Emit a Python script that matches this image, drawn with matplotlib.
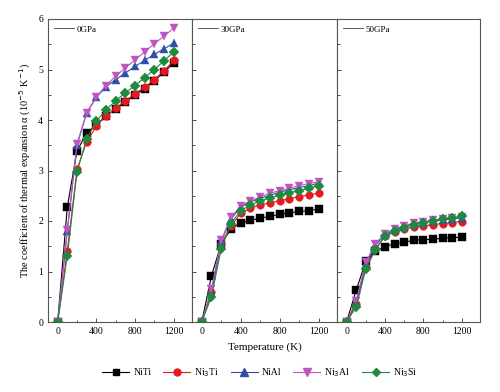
import matplotlib
matplotlib.use("Agg")
import matplotlib.pyplot as plt
from matplotlib.lines import Line2D
from matplotlib.ticker import MultipleLocator

plt.rcParams['font.family'] = ['Liberation Serif', 'DejaVu Serif']

# temperature points (K)
temps = [0, 100, 200, 300, 400, 500, 600, 700, 800, 900, 1000, 1100, 1200]

pressures = ['0GPa', '30GPa', '50GPa']
names = ['NiTi', 'Ni$_3$Ti', 'NiAl', 'Ni$_3$Al', 'Ni$_3$Si']

# thermal expansion coefficient (10^-5 K^-1), one list per material per pressure
niti_0 = [0, 2.28, 3.39, 3.74, 3.90, 4.08, 4.22, 4.35, 4.50, 4.62, 4.78, 4.95, 5.13]
ni3ti_0 = [0, 1.41, 3.02, 3.57, 3.88, 4.08, 4.23, 4.38, 4.52, 4.65, 4.80, 4.97, 5.18]
nial_0 = [0, 1.80, 3.50, 4.14, 4.45, 4.66, 4.80, 4.93, 5.06, 5.18, 5.30, 5.41, 5.52]
ni3al_0 = [0, 1.83, 3.53, 4.14, 4.46, 4.68, 4.87, 5.03, 5.19, 5.35, 5.51, 5.66, 5.82]
ni3si_0 = [0, 1.31, 2.97, 3.63, 3.98, 4.20, 4.38, 4.54, 4.68, 4.84, 5.00, 5.17, 5.35]

niti_30 = [0, 0.91, 1.55, 1.84, 1.97, 2.01, 2.06, 2.09, 2.13, 2.16, 2.19, 2.20, 2.24]
ni3ti_30 = [0, 0.60, 1.55, 1.90, 2.15, 2.25, 2.32, 2.36, 2.40, 2.44, 2.48, 2.52, 2.55]
nial_30 = [0, 0.60, 1.60, 2.04, 2.27, 2.38, 2.45, 2.51, 2.57, 2.62, 2.66, 2.70, 2.75]
ni3al_30 = [0, 0.65, 1.62, 2.07, 2.30, 2.40, 2.48, 2.55, 2.60, 2.65, 2.70, 2.74, 2.78]
ni3si_30 = [0, 0.50, 1.45, 1.95, 2.20, 2.32, 2.40, 2.46, 2.51, 2.56, 2.60, 2.65, 2.70]

niti_50 = [0, 0.63, 1.20, 1.40, 1.49, 1.55, 1.58, 1.62, 1.63, 1.64, 1.66, 1.67, 1.68]
ni3ti_50 = [0, 0.35, 1.08, 1.45, 1.70, 1.78, 1.84, 1.88, 1.90, 1.93, 1.95, 1.97, 1.99]
nial_50 = [0, 0.40, 1.15, 1.52, 1.73, 1.82, 1.89, 1.94, 1.97, 2.00, 2.02, 2.04, 2.06]
ni3al_50 = [0, 0.42, 1.18, 1.55, 1.75, 1.84, 1.91, 1.96, 1.99, 2.02, 2.04, 2.06, 2.08]
ni3si_50 = [0, 0.30, 1.05, 1.43, 1.70, 1.80, 1.87, 1.93, 1.97, 2.00, 2.03, 2.06, 2.10]

data = [
    [niti_0, ni3ti_0, nial_0, ni3al_0, ni3si_0],
    [niti_30, ni3ti_30, nial_30, ni3al_30, ni3si_30],
    [niti_50, ni3ti_50, nial_50, ni3al_50, ni3si_50],
]

colors = ['black', '#e8191e', '#2d4fa8', '#c054c0', '#1e8a3e']
markers = ['s', 'o', '^', 'v', 'D']
msizes = [5.5, 5.5, 6, 6, 5]

fig = plt.figure(figsize=(5, 3.92), dpi=100)
lefts = [48, 192, 337]
rights = [192, 337, 480]
axes = []
for i in range(3):
    l = lefts[i] / 500
    w = (rights[i] - lefts[i]) / 500
    ax = fig.add_axes([l, 1 - 322 / 392, w, (322 - 19) / 392])
    axes.append(ax)

for i, ax in enumerate(axes):
    for j in range(5):
        ax.plot(temps, data[i][j], color=colors[j], marker=markers[j],
                markersize=msizes[j], linewidth=0.8, markeredgewidth=0.3,
                markeredgecolor=colors[j])
    ax.set_xlim(-100, 1390)
    ax.set_ylim(0, 6)
    ax.set_xticks([0, 400, 800, 1200])
    ax.xaxis.set_minor_locator(MultipleLocator(200))
    ax.yaxis.set_major_locator(MultipleLocator(1))
    ax.yaxis.set_minor_locator(MultipleLocator(0.5))
    ax.tick_params(which='both', direction='in', labelsize=7, top=False, right=False,
                   color='#333333', width=0.6)
    ax.tick_params(which='major', length=3)
    ax.tick_params(which='minor', length=1.8)
    for sp in ax.spines.values():
        sp.set_color('#555555')
        sp.set_linewidth(0.8)
    if i > 0:
        ax.set_yticklabels([])
    h = Line2D([], [], color='#444444', linewidth=0.6)
    ax.legend([h], [pressures[i]], loc='upper left', frameon=False, fontsize=6.5,
              handlelength=2.2, handletextpad=0.3, borderaxespad=0.3)

axes[0].set_ylabel('The coefficient of thermal expansion \u03b1 (10$^{-5}$ K$^{-1}$)',
                   fontsize=7.5, labelpad=4)
fig.text(0.53, 0.115, 'Temperature (K)', ha='center', va='center', fontsize=8)

handles = [Line2D([], [], color=colors[j], marker=markers[j], markersize=msizes[j] - 0.5,
                  linewidth=0.8) for j in range(5)]
fig.legend(handles, names, loc='center', bbox_to_anchor=(0.52, 0.05), ncol=5,
           frameon=False, fontsize=7, handlelength=2.8, columnspacing=1.2,
           handletextpad=0.4)

fig.savefig('out.png', dpi=100)
